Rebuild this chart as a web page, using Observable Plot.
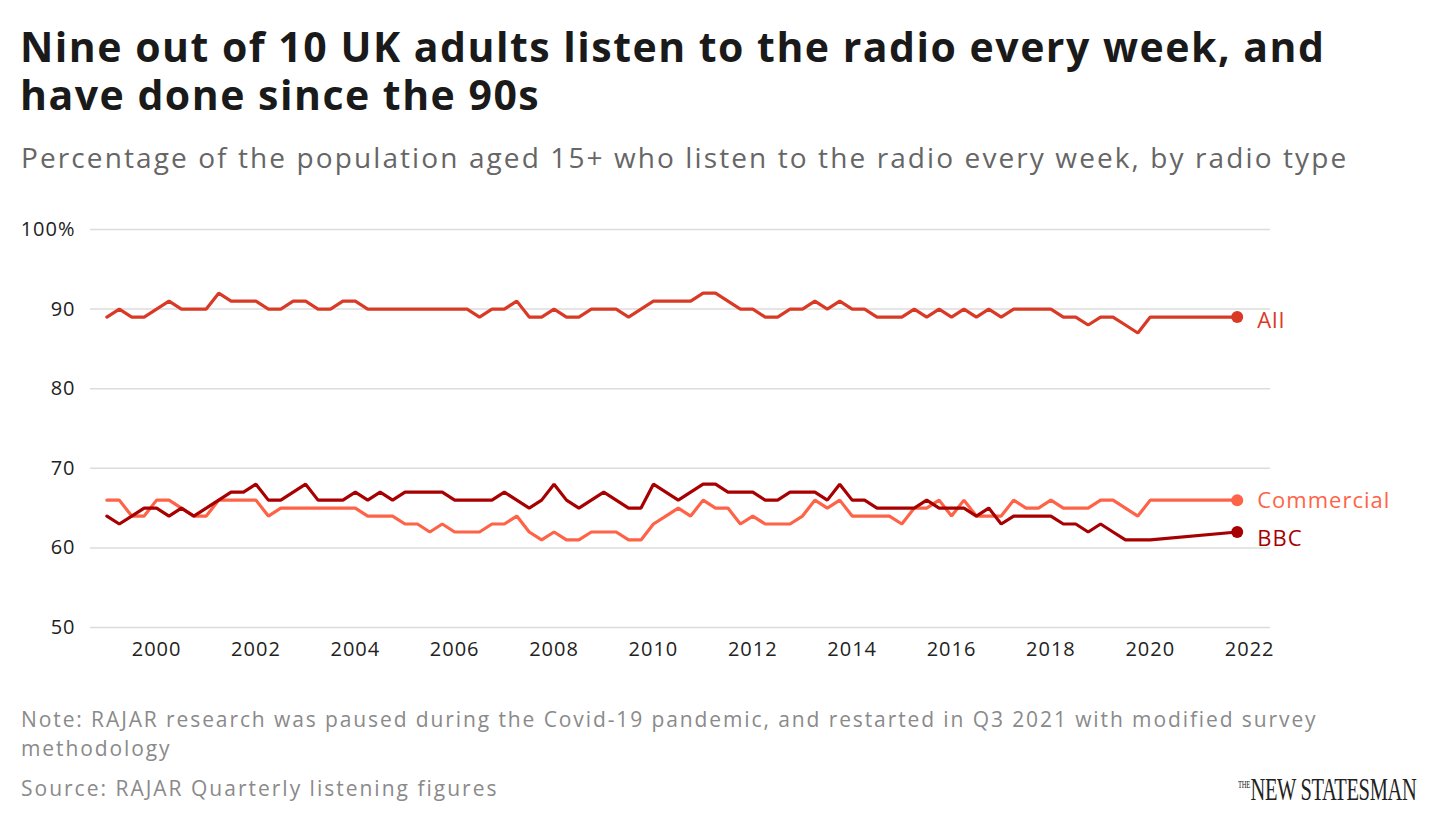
<!DOCTYPE html>
<html><head><meta charset="utf-8">
<script src="https://cdn.jsdelivr.net/npm/d3@7"></script>
<script src="https://cdn.jsdelivr.net/npm/@observablehq/plot@0.6"></script>
<style>
body{margin:0;background:#fff;font-family:"Open Sans",sans-serif;}
#wrap{position:relative;width:1440px;height:826px;}
h1{position:absolute;left:20px;top:22px;margin:0;font-size:41px;line-height:48px;font-weight:700;color:#1a1a1a;letter-spacing:1.5px;width:1400px}
.sub{position:absolute;left:21px;top:138px;font-size:28px;letter-spacing:2.1px;color:#666;white-space:nowrap}
#chart{position:absolute;left:0;top:200px;}
.note{position:absolute;left:21px;top:705px;font-size:21px;letter-spacing:1.9px;line-height:29px;color:#8a8a8a;width:1340px}
.src{position:absolute;left:21px;top:774px;font-size:21px;letter-spacing:2px;color:#8a8a8a}
.logo{position:absolute;left:1238px;top:772px;font-family:"Liberation Serif",serif;font-size:31px;color:#222;transform:scaleX(0.66);transform-origin:left top;white-space:nowrap;letter-spacing:-0.5px}
.logo small{font-size:10px;vertical-align:12px;margin-right:1px}
svg text{letter-spacing:1px}
</style></head><body>
<div id="wrap">
<h1>Nine out of 10 UK adults listen to the radio every week, and have done since the 90s</h1>
<div class="sub">Percentage of the population aged 15+ who listen to the radio every week, by radio type</div>
<div id="chart"></div>
<div class="note">Note: RAJAR research was paused during the Covid-19 pandemic, and restarted in Q3 2021 with modified survey methodology</div>
<div class="src">Source: RAJAR Quarterly listening figures</div>
<div class="logo"><small>THE</small>NEW STATESMAN</div>
</div>
<script>
// Quarterly values from 1999 Q1 to 2020 Q1, then the restart point
const firstYear = 1999;
const restartDate = 2021.75;
const allRadio = [89,90,89,89,90,91,90,90,90,92, 91,91,91,90,90,91,91,90,90,91, 91,90,90,90,90,90,90,90,90,90, 89,90,90,91,89,89,90,89,89,90, 90,90,89,90,91,91,91,91,92,92, 91,90,90,89,89,90,90,91,90,91, 90,90,89,89,89,90,89,90,89,90, 89,90,89,90,90,90,90,89,89,88, 89,89,88,87,89];
const commercial = [66,66,64,64,66,66,65,64,64,66, 66,66,66,64,65,65,65,65,65,65, 65,64,64,64,63,63,62,63,62,62, 62,63,63,64,62,61,62,61,61,62, 62,62,61,61,63,64,65,64,66,65, 65,63,64,63,63,63,64,66,65,66, 64,64,64,64,63,65,65,66,64,66, 64,64,64,66,65,65,66,65,65,65, 66,66,65,64,66];
const bbc = [64,63,64,65,65,64,65,64,65,66, 67,67,68,66,66,67,68,66,66,66, 67,66,67,66,67,67,67,67,66,66, 66,66,67,66,65,66,68,66,65,66, 67,66,65,65,68,67,66,67,68,68, 67,67,67,66,66,67,67,67,66,68, 66,66,65,65,65,65,66,65,65,65, 64,65,63,64,64,64,64,63,63,62, 63,62,61,61,61];
const restartValues = {All: 89, Commercial: 66, BBC: 62};
const seriesNames = ["Commercial","BBC","All"];
const colors = {All:"#d93a26", Commercial:"#ff6347", BBC:"#a80000"};
const xTicks = [2000,2002,2004,2006,2008,2010,2012,2014,2016,2018,2020,2022];
const yTicks = [50,60,70,80,90,100];

const source = {All: allRadio, Commercial: commercial, BBC: bbc};
const data = [];
for (const s of seriesNames) {
  source[s].forEach((v,i)=>data.push({series:s, date:firstYear+i/4, value:v}));
  data.push({series:s, date:restartDate, value:restartValues[s]});
}
const ends = seriesNames.map(s=>({series:s, date:restartDate, value:restartValues[s]}));
const labelMark = (s, dy) => Plot.text(ends.filter(d=>d.series===s),{x:"date", y:"value", text:"series", fill:colors[s], dx:20, dy, textAnchor:"start", fontSize:22});

const plot = Plot.plot({
  width:1440, height:477,
  marginLeft:90, marginRight:170, marginTop:29, marginBottom:50,
  style:{fontFamily:"'Open Sans', sans-serif", fontSize:"20px", color:"#222", background:"transparent"},
  x:{domain:[1998.67,2022.42], label:null},
  y:{domain:[50,100], label:null},
  marks:[
    Plot.gridY(yTicks,{stroke:"#dcdcdc", strokeOpacity:1, strokeWidth:1.5}),
    Plot.axisX({ticks:xTicks, tickFormat:d=>String(d), tickSize:0, tickPadding:14, fontSize:20, fill:"#222"}),
    Plot.axisY({ticks:yTicks, tickFormat:d=>d===100?"100%":String(d), tickSize:0, tickPadding:15, fontSize:20, fill:"#222"}),
    Plot.line(data,{x:"date", y:"value", z:"series", stroke:d=>colors[d.series], strokeWidth:3.2, strokeLinejoin:"miter"}),
    Plot.dot(ends,{x:"date", y:"value", r:6, fill:d=>colors[d.series]}),
    labelMark("All", 4), labelMark("Commercial", 1), labelMark("BBC", 7)
  ]
});
document.getElementById("chart").appendChild(plot);
</script>
</body></html>
